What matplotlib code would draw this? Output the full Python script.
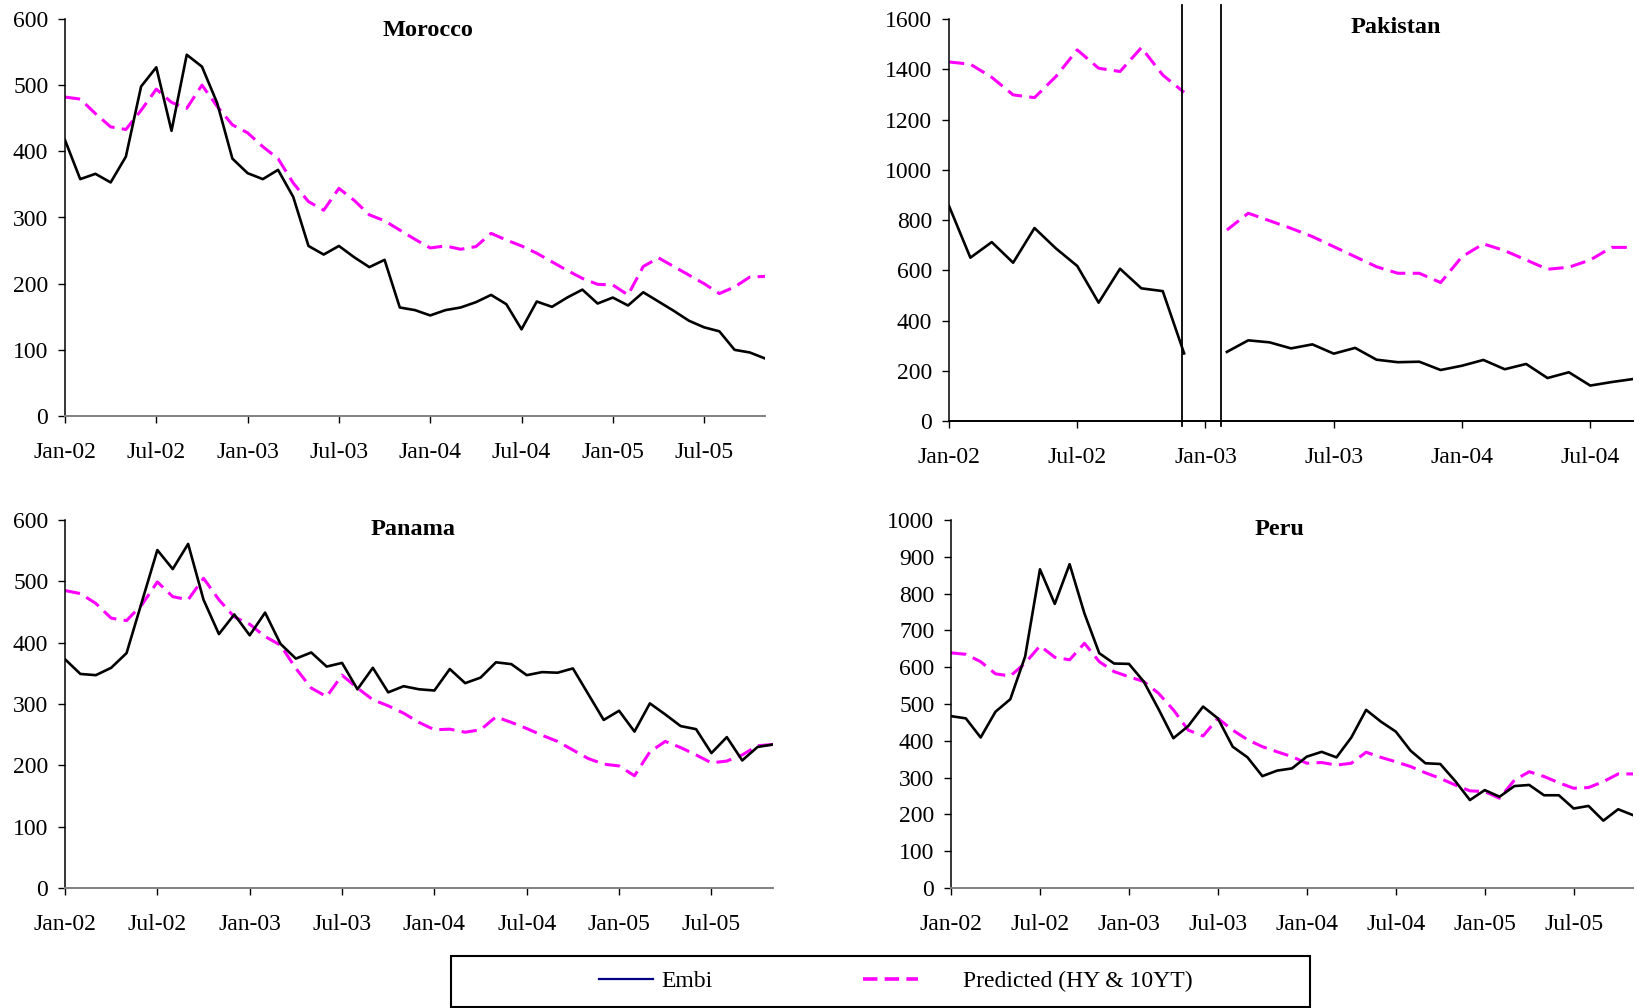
import numpy as np
import matplotlib
matplotlib.use("Agg")
import matplotlib.pyplot as plt
from matplotlib.lines import Line2D
from matplotlib.patches import Rectangle
import matplotlib.transforms as mtransforms

plt.rcParams['font.family'] = ['Liberation Serif', 'DejaVu Serif']

# ---------------- data ----------------
tick_labels = ['Jan-02', 'Jul-02', 'Jan-03', 'Jul-03', 'Jan-04', 'Jul-04', 'Jan-05', 'Jul-05']

morocco_embi = [417, 358, 366, 353, 392, 498, 527, 431, 546, 528, 473, 389, 367, 358, 372, 331,
                257, 244, 257, 240, 225, 236, 164, 160, 152, 160, 164, 172, 183, 169, 131, 173,
                165, 179, 191, 170, 179, 167, 187, 173, 159, 144, 134, 128, 100, 96, 87]
morocco_pred = [482, 479, 457, 437, 433, 462, 494, 474, 465, 500, 468, 440, 428, 407, 389, 352,
                324, 311, 344, 326, 304, 295, 281, 267, 254, 257, 252, 256, 276, 266, 257, 246,
                233, 220, 208, 199, 198, 183, 226, 239, 226, 213, 200, 185, 195, 210, 211]

pakistan_embi = [856, 650, 712, 630, 768, 687, 617, 471, 606, 528, 517, 269, None,
                 275, 321, 313, 289, 305, 268, 291, 244, 234, 236, 203, 220, 243, 206, 227,
                 171, 194, 141, 155, 167]
pakistan_pred = [1429, 1420, 1368, 1298, 1287, 1371, 1477, 1404, 1391, 1486, 1377, 1308, None,
                 760, 827, 797, 767, 734, 694, 654, 614, 588, 588, 551, 654, 705, 678, 641,
                 604, 612, 641, 691, 691]

panama_embi = [373, 349, 347, 359, 383, 467, 551, 520, 561, 470, 414, 446, 412, 449, 398, 374,
               384, 361, 367, 324, 359, 319, 329, 324, 322, 357, 334, 343, 368, 365, 347, 352,
               351, 358, 316, 274, 289, 255, 301, 283, 264, 259, 220, 246, 208, 230, 234]
panama_pred = [485, 480, 464, 440, 436, 462, 499, 475, 470, 505, 470, 442, 430, 410, 396, 358,
               326, 312, 347, 326, 307, 297, 285, 270, 258, 259, 254, 258, 279, 270, 260, 249,
               239, 225, 211, 202, 199, 183, 222, 239, 229, 217, 204, 207, 217, 232, 234]

peru_embi = [467, 461, 409, 479, 513, 629, 866, 772, 880, 746, 638, 610, 609, 561, 486, 407,
             440, 493, 461, 384, 355, 304, 319, 325, 357, 370, 355, 409, 484, 452, 425, 373,
             339, 337, 291, 239, 266, 248, 277, 280, 252, 252, 216, 223, 183, 214, 198]
peru_pred = [639, 635, 615, 582, 576, 611, 658, 627, 620, 665, 615, 588, 574, 561, 529, 484,
             429, 413, 461, 429, 403, 384, 370, 357, 339, 341, 334, 339, 369, 355, 343, 330,
             313, 298, 280, 264, 262, 244, 293, 316, 303, 286, 271, 273, 289, 310, 310]

pakistan_gap = 12  # missing month (Jan-03)

# ---------------- figure ----------------
W, H = 1640, 1008
fig = plt.figure(figsize=(W / 100, H / 100), dpi=100)

def fr(px_l, px_t, px_r, px_b):
    return [px_l / W, 1 - px_b / H, (px_r - px_l) / W, (px_b - px_t) / H]

panels = [
    dict(name='Morocco', embi=morocco_embi, pred=morocco_pred, rect=fr(65, 19, 765, 416),
         ymax=600, ystep=100, title_x=0.518, title_y=0.972, spine='#808080'),
    dict(name='Pakistan', embi=pakistan_embi, pred=pakistan_pred, rect=fr(949, 19, 1633, 421),
         ymax=1600, ystep=200, title_x=0.653, title_y=0.978, spine='black'),
    dict(name='Panama', embi=panama_embi, pred=panama_pred, rect=fr(65, 520, 773, 888),
         ymax=600, ystep=100, title_x=0.491, title_y=0.975, spine='#808080'),
    dict(name='Peru', embi=peru_embi, pred=peru_pred, rect=fr(951, 520, 1633, 888),
         ymax=1000, ystep=100, title_x=0.482, title_y=0.975, spine='#808080'),
]

FS = 17
for p in panels:
    ax = fig.add_axes(p['rect'])
    e = np.array([np.nan if v is None else v for v in p['embi']], dtype=float)
    pr = np.array([np.nan if v is None else v for v in p['pred']], dtype=float)
    x = np.arange(len(e))
    ax.plot(x, pr, color='#FF00FF', lw=2.2, dashes=(5, 2.4), zorder=2)
    ax.plot(x, e, color='black', lw=1.9, zorder=3)
    ax.set_xlim(0, len(e) - 1)
    ax.set_ylim(0, p['ymax'])
    ax.set_yticks(np.arange(0, p['ymax'] + 1, p['ystep']))
    ticks = np.arange(0, len(e), 6)
    ax.set_xticks(ticks)
    ax.set_xticklabels(tick_labels[:len(ticks)])
    for s in ['top', 'right']:
        ax.spines[s].set_visible(False)
    ax.spines['left'].set_color('black')
    ax.spines['left'].set_linewidth(1.1)
    ax.spines['bottom'].set_color(p['spine'])
    ax.spines['bottom'].set_linewidth(1.4)
    ax.tick_params(axis='y', direction='out', length=5, width=1.0, pad=7, labelsize=FS, colors='black')
    ax.tick_params(axis='x', direction='out', length=5, width=1.0, pad=14, labelsize=FS, colors='black')
    ax.patch.set_visible(False)
    ax.text(p['title_x'], p['title_y'], p['name'], transform=ax.transAxes, ha='center', va='center',
            fontsize=17.5, fontweight='bold')
    if p['name'] == 'Pakistan':
        trans = mtransforms.blended_transform_factory(ax.transData, ax.transAxes)
        for bx in [pakistan_gap - 1.08, pakistan_gap + 0.73]:
            ax.plot([bx, bx], [-0.013, 1.035], transform=trans, color='black', lw=1.3,
                    clip_on=False, zorder=4)

# ---------------- legend ----------------
box = Rectangle((451 / W, 1 - 1007 / H), 859 / W, 51 / H, transform=fig.transFigure,
                fill=False, edgecolor='black', lw=1.5)
fig.patches.append(box)
ly = 1 - 981.5 / H
LFS = 17
h1 = Line2D([], [], color='#000080', lw=1.6)
h2 = Line2D([], [], color='#FF00FF', lw=2.6, dashes=(4, 2))
fpx = LFS * 100 / 72
leg1 = fig.legend(handles=[h1], labels=['Embi'], loc='center left', bbox_to_anchor=(599 / W, ly),
                  frameon=False, borderpad=0, borderaxespad=0, fontsize=LFS,
                  handlelength=54 / fpx, handletextpad=8 / fpx)
leg2 = fig.legend(handles=[h2], labels=['Predicted (HY & 10YT)'], loc='center left',
                  bbox_to_anchor=(863 / W, ly), frameon=False, borderpad=0, borderaxespad=0,
                  fontsize=LFS, handlelength=55 / fpx, handletextpad=45 / fpx)

fig.savefig('out.png', dpi=100)
